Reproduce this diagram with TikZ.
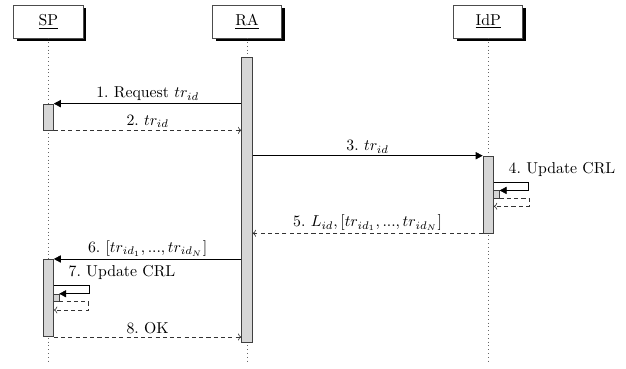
\documentclass[tikz,border=0pt]{standalone}
\usetikzlibrary{positioning, shadows, calc, arrows.meta}

\begin{document}
\begin{tikzpicture}[x=0.633pt, y=-0.633pt,
  party/.style={draw=black!70, fill=white, minimum width=43.7pt, minimum height=20.9pt,
    drop shadow={shadow xshift=2pt, shadow yshift=-2pt, fill=black, opacity=1}},
  actbar/.style={draw=black!75, fill=black!16, minimum width=6.6pt, inner sep=0pt},
  smallbar/.style={draw=black!75, fill=black!16, minimum width=3.6pt, minimum height=4.6pt, inner sep=0pt},
  lifeline/.style={dotted, black!60},
  call/.style={-{Triangle[length=4.4pt,width=4.6pt]}, black},
  ret/.style={-{To[length=2.2pt,width=4.4pt]}, black!80, dash pattern=on 2.6pt off 2pt},
  lbl/.style={font=\normalsize, inner sep=1.5pt, text=black}]

\useasboundingbox (0,0) rectangle (626,368);

% parties
\node[party] (sp) at (48.3,21.5) {\underline{SP}};
\node[party] (ra) at (247,21.5) {\underline{RA}};
\node[party] (idp) at (488.2,21.5) {\underline{IdP}};

% lifelines
\draw[lifeline] (sp.south) -- (sp.south |- 0,362);
\draw[lifeline] (ra.south) -- (ra.south |- 0,362);
\draw[lifeline] (idp.south) -- (idp.south |- 0,362);

% activation bars
\node[actbar, minimum height=180.9pt] (rabar) at (247,199.9) {};
\node[actbar, minimum height=16.5pt] (spbarA) at (48.3,117) {};
\node[actbar, minimum height=48.7pt] (idpbar) at (488.2,194.5) {};
\node[smallbar] (idpself) at (496.5,194.4) {};
\node[actbar, minimum height=49pt] (spbarB) at (48.3,298) {};
\node[smallbar] (spself) at (56.1,297.7) {};

% messages
\draw[call] (rabar.west |- spbarA.north) -- node[lbl, above] {1.~Request $tr_{id}$} (spbarA.north east);
\draw[ret] (spbarA.south east) -- node[lbl, above] {2.~$tr_{id}$} (rabar.west |- spbarA.south);
\draw[call] (rabar.east |- idpbar.north) -- node[lbl, above] {3.~$tr_{id}$} (idpbar.north west);

% self call at IdP
\node[lbl, anchor=west] (upd4) at (506,169) {4.~Update CRL};
\draw[call] (idpbar.east |- 0,182.3) -- ++(35,0) |- (idpself.north east);
\draw[ret] (idpself.south east) -- ++(29.4,0) |- (idpbar.east |- 0,206.3);

\draw[ret] (idpbar.south west) -- node[lbl, above] {5.~$L_{id}, [tr_{id_1}, ..., tr_{id_N}]$} (rabar.east |- idpbar.south);
\draw[call] (rabar.west |- spbarB.north) -- node[lbl, above] {6.~$[tr_{id_1}, ..., tr_{id_N}]$} (spbarB.north east);

% self call at SP
\node[lbl, anchor=west] (upd7) at (66,272.7) {7.~Update CRL};
\draw[call] (spbarB.east |- 0,285.7) -- ++(35,0) |- (spself.north east);
\draw[ret] (spself.south east) -- ++(29.2,0) |- (spbarB.east |- 0,310);

\draw[ret] (spbarB.south east) -- node[lbl, above] {8.~OK} (rabar.west |- spbarB.south);

\end{tikzpicture}
\end{document}
